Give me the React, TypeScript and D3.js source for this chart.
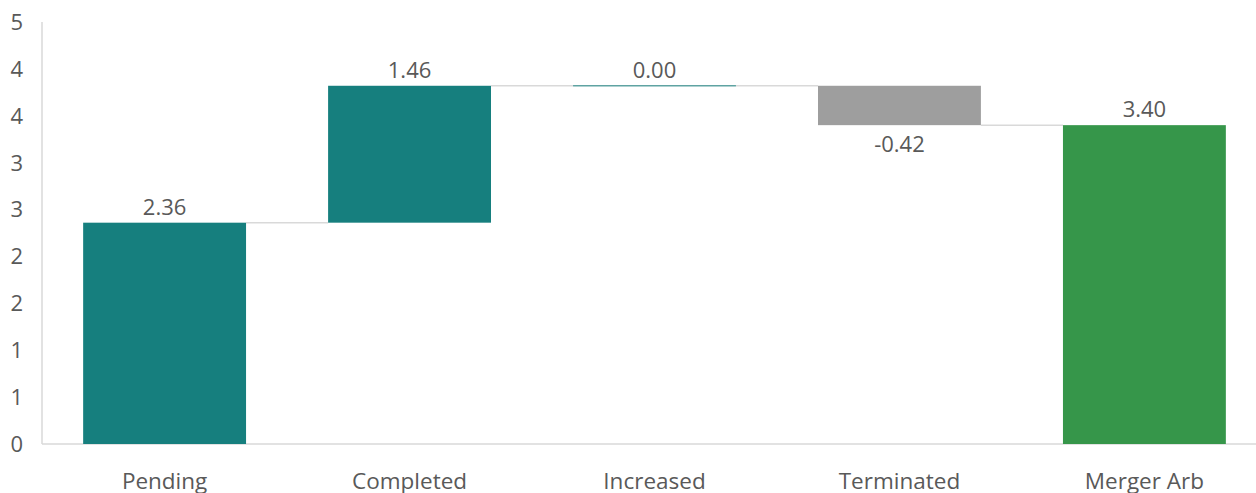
import * as d3 from 'd3';

const categories = ['Pending', 'Completed', 'Increased', 'Terminated', 'Merger Arb'];
const values = [2.36, 1.46, 0.0, -0.42, 3.4];
const isTotal = [false, false, false, false, true];
const yTicks = [0, 0.5, 1, 1.5, 2, 2.5, 3, 3.5, 4, 4.5];

const width = 1256;
const height = 493;
const font = '"Open Sans", "DejaVu Sans", sans-serif';
const textColor = '#595959';
const lineColor = '#d9d9d9';

type Step = { name: string; value: number; start: number; end: number; total: boolean };

function buildSteps(): Step[] {
  let running = 0;
  return categories.map((name, i) => {
    if (isTotal[i]) {
      running = values[i];
      return { name, value: values[i], start: 0, end: values[i], total: true };
    }
    const start = running;
    running += values[i];
    return { name, value: values[i], start, end: running, total: false };
  });
}

function barColor(step: Step) {
  if (step.total) return '#36964a';
  if (step.value < 0) return '#9e9e9e';
  return '#167f7e';
}

export default function App() {
  const steps = buildSteps();
  const x = d3.scaleBand<string>().domain(categories).range([42, 1267]).paddingInner(0.335).paddingOuter(0.168);
  const y = d3.scaleLinear().domain([0, 4.5]).range([444, 22]);
  const bw = x.bandwidth();

  return (
    <svg
      width={width}
      height={height}
      style={{ position: 'fixed', left: 0, top: 0, background: '#fff' }}
      fontFamily={font}
    >
      {/* axes */}
      <line x1={42} x2={42} y1={y(4.5)} y2={y(0)} stroke={lineColor} strokeWidth={1.5} />
      <line x1={42} x2={width} y1={y(0)} y2={y(0)} stroke={lineColor} strokeWidth={1.5} />

      {yTicks.map((t) => (
        <text key={t} x={23} y={y(t)} dy="0.36em" textAnchor="end" fontSize={22} fill={textColor}>
          {Math.round(t)}
        </text>
      ))}

      {/* connectors */}
      {steps.slice(0, -1).map((s, i) => {
        const next = categories[i + 1];
        return (
          <line
            key={`c-${s.name}`}
            x1={(x(s.name) ?? 0) + bw}
            x2={x(next) ?? 0}
            y1={y(s.end)}
            y2={y(s.end)}
            stroke={lineColor}
            strokeWidth={1.5}
          />
        );
      })}

      {/* bars */}
      {steps.map((s) => {
        const top = y(Math.max(s.start, s.end));
        const bottom = y(Math.min(s.start, s.end));
        const bx = x(s.name) ?? 0;
        if (bottom - top < 1) {
          return (
            <line key={s.name} x1={bx} x2={bx + bw} y1={top} y2={top} stroke="#5fa3a2" strokeWidth={1.5} />
          );
        }
        return <rect key={s.name} x={bx} y={top} width={bw} height={bottom - top} fill={barColor(s)} />;
      })}

      {/* value labels */}
      {steps.map((s) => {
        const cx = (x(s.name) ?? 0) + bw / 2;
        const ly = s.value < 0 ? y(s.end) + 27 : y(s.end) - 8;
        return (
          <text key={`l-${s.name}`} x={cx} y={ly} textAnchor="middle" fontSize={22} fill={textColor}>
            {s.value.toFixed(2)}
          </text>
        );
      })}

      {/* category labels */}
      {categories.map((c) => (
        <text key={`x-${c}`} x={(x(c) ?? 0) + bw / 2} y={489} textAnchor="middle" fontSize={22.5} fill={textColor}>
          {c}
        </text>
      ))}
    </svg>
  );
}
